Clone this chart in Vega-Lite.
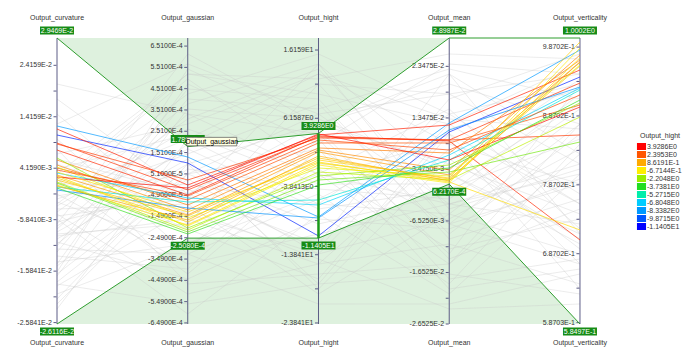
{
"$schema": "https://vega.github.io/schema/vega-lite/v6.json",
"width": 700, "height": 358, "autosize": {"type": "none"}, "padding": 0, "background": "white",
"config": {"view": {"stroke": null}, "font": "Liberation Sans"},
"datasets": {
"axes": [
{"key": "Output_curvature", "idx": 0, "lo": -0.026116, "hi": 0.029469},
{"key": "Output_gaussian", "idx": 1, "lo": -0.000654, "hi": 0.000689},
{"key": "Output_hight", "idx": 2, "lo": -23.99, "hi": 17.92},
{"key": "Output_mean", "idx": 3, "lo": -0.026525, "hi": 0.028987},
{"key": "Output_verticality", "idx": 4, "lo": 0.58497, "hi": 1.0002}
],
"brush": [
{"key": "Output_curvature", "top": 0.029469, "bot": -0.026116, "topLabel": "2.9469E-2", "botLabel": "-2.6116E-2"},
{"key": "Output_gaussian", "top": 0.00017898, "bot": -0.0002508, "topLabel": "1.7898E-4", "botLabel": "-2.5080E-4"},
{"key": "Output_hight", "top": 3.9286, "bot": -11.405, "topLabel": "3.9286E0", "botLabel": "-1.1405E1"},
{"key": "Output_mean", "top": 0.028987, "bot": 0.0006217, "topLabel": "2.8987E-2", "botLabel": "6.2170E-4"},
{"key": "Output_verticality", "top": 1.0002, "bot": 0.58497, "topLabel": "1.0002E0", "botLabel": "5.8497E-1"}
],
"note": [{"key": "Output_gaussian", "value": 0.00017898, "text": "Output_gaussian"}],
"levels": [{"lv": "3.9286E0"}, {"lv": "2.3953E0"}, {"lv": "8.6191E-1"}, {"lv": "-6.7144E-1"}, {"lv": "-2.2048E0"}, {"lv": "-3.7381E0"}, {"lv": "-5.2715E0"}, {"lv": "-6.8048E0"}, {"lv": "-8.3382E0"}, {"lv": "-9.8715E0"}, {"lv": "-1.1405E1"}],
"ticks": [
{"key": "Output_curvature", "value": 0.024159, "label": "2.4159E-2"},
{"key": "Output_curvature", "value": 0.014159, "label": "1.4159E-2"},
{"key": "Output_curvature", "value": 0.004159, "label": "4.1590E-3"},
{"key": "Output_curvature", "value": -0.005841, "label": "-5.8410E-3"},
{"key": "Output_curvature", "value": -0.015841, "label": "-1.5841E-2"},
{"key": "Output_curvature", "value": -0.025841, "label": "-2.5841E-2"},
{"key": "Output_curvature", "value": 0.019159, "label": ""},
{"key": "Output_curvature", "value": 0.009159, "label": ""},
{"key": "Output_curvature", "value": -0.000841, "label": ""},
{"key": "Output_curvature", "value": -0.010841, "label": ""},
{"key": "Output_curvature", "value": -0.020841, "label": ""},
{"key": "Output_gaussian", "value": 0.000651, "label": "6.5100E-4"},
{"key": "Output_gaussian", "value": 0.000551, "label": "5.5100E-4"},
{"key": "Output_gaussian", "value": 0.000451, "label": "4.5100E-4"},
{"key": "Output_gaussian", "value": 0.000351, "label": "3.5100E-4"},
{"key": "Output_gaussian", "value": 0.000251, "label": "2.5100E-4"},
{"key": "Output_gaussian", "value": 0.000151, "label": "1.5100E-4"},
{"key": "Output_gaussian", "value": 0.000051, "label": "5.1000E-5"},
{"key": "Output_gaussian", "value": -0.000049, "label": "-4.9000E-5"},
{"key": "Output_gaussian", "value": -0.000149, "label": "-1.4900E-4"},
{"key": "Output_gaussian", "value": -0.000249, "label": "-2.4900E-4"},
{"key": "Output_gaussian", "value": -0.000349, "label": "-3.4900E-4"},
{"key": "Output_gaussian", "value": -0.000449, "label": "-4.4900E-4"},
{"key": "Output_gaussian", "value": -0.000549, "label": "-5.4900E-4"},
{"key": "Output_gaussian", "value": -0.000649, "label": "-6.4900E-4"},
{"key": "Output_hight", "value": 16.159, "label": "1.6159E1"},
{"key": "Output_hight", "value": 6.1587, "label": "6.1587E0"},
{"key": "Output_hight", "value": -3.8413, "label": "-3.8413E0"},
{"key": "Output_hight", "value": -13.841, "label": "-1.3841E1"},
{"key": "Output_hight", "value": -23.841, "label": "-2.3841E1"},
{"key": "Output_hight", "value": 11.159, "label": ""},
{"key": "Output_hight", "value": 1.1587, "label": ""},
{"key": "Output_hight", "value": -8.8413, "label": ""},
{"key": "Output_hight", "value": -18.841, "label": ""},
{"key": "Output_mean", "value": 0.023475, "label": "2.3475E-2"},
{"key": "Output_mean", "value": 0.013475, "label": "1.3475E-2"},
{"key": "Output_mean", "value": 0.003475, "label": "3.4750E-3"},
{"key": "Output_mean", "value": -0.006525, "label": "-6.5250E-3"},
{"key": "Output_mean", "value": -0.016525, "label": "-1.6525E-2"},
{"key": "Output_mean", "value": -0.026525, "label": "-2.6525E-2"},
{"key": "Output_mean", "value": 0.018475, "label": ""},
{"key": "Output_mean", "value": 0.008475, "label": ""},
{"key": "Output_mean", "value": -0.001525, "label": ""},
{"key": "Output_mean", "value": -0.011525, "label": ""},
{"key": "Output_mean", "value": -0.021525, "label": ""},
{"key": "Output_verticality", "value": 0.98702, "label": "9.8702E-1"},
{"key": "Output_verticality", "value": 0.88702, "label": "8.8702E-1"},
{"key": "Output_verticality", "value": 0.78702, "label": "7.8702E-1"},
{"key": "Output_verticality", "value": 0.68702, "label": "6.8702E-1"},
{"key": "Output_verticality", "value": 0.58703, "label": "5.8703E-1"},
{"key": "Output_verticality", "value": 0.93702, "label": ""},
{"key": "Output_verticality", "value": 0.83702, "label": ""},
{"key": "Output_verticality", "value": 0.73702, "label": ""},
{"key": "Output_verticality", "value": 0.63702, "label": ""}
],
"lines": [
{"id": "c1", "Output_curvature": 0.012365, "Output_gaussian": 0.0001302, "Output_hight": -8.31, "Output_mean": 0.01249, "Output_verticality": 0.98279},
{"id": "c2", "Output_curvature": 0.010616, "Output_gaussian": 0.0001021, "Output_hight": -11.09, "Output_mean": 0.01074, "Output_verticality": 0.94359},
{"id": "c3", "Output_curvature": 0.011782, "Output_gaussian": -0.0000013, "Output_hight": 3.706, "Output_mean": 0.0121, "Output_verticality": 0.95375},
{"id": "c4", "Output_curvature": 0.009061, "Output_gaussian": -0.0000247, "Output_hight": 3.413, "Output_mean": 0.00919, "Output_verticality": 0.93488},
{"id": "c5", "Output_curvature": 0.008867, "Output_gaussian": 0.0000222, "Output_hight": 3.266, "Output_mean": 0.00919, "Output_verticality": 0.85938},
{"id": "c6", "Output_curvature": 0.007701, "Output_gaussian": -0.0000482, "Output_hight": 3.56, "Output_mean": 0.008995, "Output_verticality": 0.70693},
{"id": "c7", "Output_curvature": 0.004203, "Output_gaussian": -0.0000717, "Output_hight": 2.534, "Output_mean": 0.00861, "Output_verticality": 0.90294},
{"id": "c8", "Output_curvature": 0.005757, "Output_gaussian": -0.0000952, "Output_hight": 1.801, "Output_mean": 0.006666, "Output_verticality": 0.96827},
{"id": "c9", "Output_curvature": 0.004786, "Output_gaussian": -0.0001187, "Output_hight": 1.508, "Output_mean": 0.003366, "Output_verticality": 0.97553},
{"id": "c10", "Output_curvature": 0.002842, "Output_gaussian": -0.0001421, "Output_hight": 1.215, "Output_mean": 0.002396, "Output_verticality": 0.96537},
{"id": "c11", "Output_curvature": 0.002259, "Output_gaussian": -0.000175, "Output_hight": 0.043, "Output_mean": 0.001814, "Output_verticality": 0.99441},
{"id": "c12", "Output_curvature": 0.000899, "Output_gaussian": -0.0001891, "Output_hight": -0.397, "Output_mean": 0.001425, "Output_verticality": 0.97117},
{"id": "c13", "Output_curvature": 0.004397, "Output_gaussian": -0.0001562, "Output_hight": -1.13, "Output_mean": 0.002202, "Output_verticality": 0.96101},
{"id": "c14", "Output_curvature": 0.001482, "Output_gaussian": -0.0002126, "Output_hight": -1.716, "Output_mean": 0.001425, "Output_verticality": 0.88551},
{"id": "c15", "Output_curvature": 0.006146, "Output_gaussian": -0.0002032, "Output_hight": -2.302, "Output_mean": 0.004337, "Output_verticality": 0.90584},
{"id": "c16", "Output_curvature": 0.001287, "Output_gaussian": -0.000222, "Output_hight": -2.888, "Output_mean": 0.002978, "Output_verticality": 0.84922},
{"id": "c17", "Output_curvature": 0.003231, "Output_gaussian": -0.0000623, "Output_hight": -6.552, "Output_mean": 0.006278, "Output_verticality": 0.92762},
{"id": "c18", "Output_curvature": 0.00051, "Output_gaussian": -0.0000811, "Output_hight": -5.819, "Output_mean": 0.005307, "Output_verticality": 0.92471},
{"id": "c19", "Output_curvature": -0.000073, "Output_gaussian": -0.0001093, "Output_hight": -8.457, "Output_mean": 0.01113, "Output_verticality": 0.92907},
{"id": "c20", "Output_curvature": 0.002453, "Output_gaussian": -0.0000153, "Output_hight": 3.853, "Output_mean": 0.005307, "Output_verticality": 0.90003},
{"id": "c21", "Output_curvature": 0.003425, "Output_gaussian": -0.000128, "Output_hight": -0.251, "Output_mean": 0.001037, "Output_verticality": 0.72145},
{"id": "c22", "Output_curvature": 0.00187, "Output_gaussian": -0.0001468, "Output_hight": 0.336, "Output_mean": 0.00162, "Output_verticality": 0.95956},
{"id": "c23", "Output_curvature": 0.000704, "Output_gaussian": -0.0001656, "Output_hight": 0.629, "Output_mean": 0.001231, "Output_verticality": 0.96537},
{"id": "c24", "Output_curvature": 0.003814, "Output_gaussian": -0.0000529, "Output_hight": 2.973, "Output_mean": 0.007248, "Output_verticality": 0.91746},
{"id": "c25", "Output_curvature": 0.002648, "Output_gaussian": -0.0001938, "Output_hight": -0.69, "Output_mean": 0.000843, "Output_verticality": 0.98569},
{"id": "c26", "Output_curvature": 0.000316, "Output_gaussian": -0.0002314, "Output_hight": -3.621, "Output_mean": 0.003755, "Output_verticality": 0.9102},
{"id": "g1", "Output_curvature": 0.003037, "Output_gaussian": 0.00052, "Output_hight": 9.714, "Output_mean": 0.012295, "Output_verticality": 0.7592},
{"id": "g2", "Output_curvature": -0.002794, "Output_gaussian": 0.0003791, "Output_hight": 14.11, "Output_mean": 0.00259, "Output_verticality": 0.71564},
{"id": "g3", "Output_curvature": -0.006681, "Output_gaussian": 0.0006139, "Output_hight": 5.318, "Output_mean": 0.020059, "Output_verticality": 0.87535},
{"id": "g4", "Output_curvature": -0.010568, "Output_gaussian": 0.0001913, "Output_hight": 11.18, "Output_mean": -0.007115, "Output_verticality": 0.67208},
{"id": "g5", "Output_curvature": -0.014455, "Output_gaussian": 0.000473, "Output_hight": 2.387, "Output_mean": 0.023941, "Output_verticality": 0.94795},
{"id": "g6", "Output_curvature": 0.012754, "Output_gaussian": 0.000567, "Output_hight": 6.783, "Output_mean": 0.018118, "Output_verticality": 0.81727},
{"id": "g7", "Output_curvature": 0.006924, "Output_gaussian": 0.0002852, "Output_hight": 12.645, "Output_mean": 0.008413, "Output_verticality": 0.78824},
{"id": "g8", "Output_curvature": 0.001093, "Output_gaussian": 0.00000034, "Output_hight": -6.405, "Output_mean": -0.005174, "Output_verticality": 0.88987},
{"id": "g9", "Output_curvature": -0.00085, "Output_gaussian": -0.0003722, "Output_hight": -10.801, "Output_mean": -0.003233, "Output_verticality": 0.73016},
{"id": "g10", "Output_curvature": -0.004737, "Output_gaussian": -0.0005131, "Output_hight": -15.198, "Output_mean": -0.010997, "Output_verticality": 0.64305},
{"id": "g11", "Output_curvature": -0.008624, "Output_gaussian": -0.0001844, "Output_hight": -2.009, "Output_mean": -0.014879, "Output_verticality": 0.83179},
{"id": "g12", "Output_curvature": -0.016398, "Output_gaussian": 0.0000504, "Output_hight": -9.336, "Output_mean": -0.001292, "Output_verticality": 0.91891},
{"id": "g13", "Output_curvature": -0.018342, "Output_gaussian": -0.0005601, "Output_hight": -18.128, "Output_mean": -0.01682, "Output_verticality": 0.62853},
{"id": "g14", "Output_curvature": -0.020285, "Output_gaussian": -0.0002783, "Output_hight": -4.94, "Output_mean": -0.018761, "Output_verticality": 0.84631},
{"id": "g15", "Output_curvature": 0.00498, "Output_gaussian": -0.0001374, "Output_hight": -13.732, "Output_mean": 0.012295, "Output_verticality": 0.96246},
{"id": "g16", "Output_curvature": 0.002065, "Output_gaussian": -0.0004192, "Output_hight": -0.544, "Output_mean": 0.00259, "Output_verticality": 0.70112},
{"id": "g17", "Output_curvature": 0.000121, "Output_gaussian": 0.0004261, "Output_hight": 15.576, "Output_mean": 0.014236, "Output_verticality": 0.77372},
{"id": "g18", "Output_curvature": -0.001822, "Output_gaussian": 0.0001443, "Output_hight": 8.249, "Output_mean": -0.009056, "Output_verticality": 0.86083},
{"id": "g19", "Output_curvature": -0.003766, "Output_gaussian": -0.0000905, "Output_hight": -19.594, "Output_mean": -0.005174, "Output_verticality": 0.6866},
{"id": "g20", "Output_curvature": -0.005709, "Output_gaussian": -0.000607, "Output_hight": -7.871, "Output_mean": -0.020702, "Output_verticality": 0.80276},
{"id": "g21", "Output_curvature": -0.007653, "Output_gaussian": 0.0003322, "Output_hight": 3.853, "Output_mean": -0.012938, "Output_verticality": 0.93343},
{"id": "g22", "Output_curvature": -0.009596, "Output_gaussian": 0.0000974, "Output_hight": 5.318, "Output_mean": 0.004531, "Output_verticality": 0.74468},
{"id": "g23", "Output_curvature": -0.01154, "Output_gaussian": -0.0003253, "Output_hight": -21.059, "Output_mean": -0.022643, "Output_verticality": 0.65757},
{"id": "g24", "Output_curvature": 0.004008, "Output_gaussian": 0.0002382, "Output_hight": -3.474, "Output_mean": 0.000649, "Output_verticality": 0.90439},
{"id": "g25", "Output_curvature": 0.005952, "Output_gaussian": -0.0000435, "Output_hight": -12.267, "Output_mean": 0.022, "Output_verticality": 0.83179},
{"id": "g26", "Output_curvature": 0.007895, "Output_gaussian": -0.0004662, "Output_hight": -16.663, "Output_mean": -0.014879, "Output_verticality": 0.87535},
{"id": "g27", "Output_curvature": 0.009839, "Output_gaussian": -0.0003253, "Output_hight": -5.672, "Output_mean": 0.010354, "Output_verticality": 0.7592},
{"id": "g28", "Output_curvature": 0.001093, "Output_gaussian": 0.00052, "Output_hight": 11.912, "Output_mean": 0.025882, "Output_verticality": 0.96972},
{"id": "g29", "Output_curvature": -0.001239, "Output_gaussian": 0.0000504, "Output_hight": 6.783, "Output_mean": -0.003233, "Output_verticality": 0.81727},
{"id": "g30", "Output_curvature": -0.003183, "Output_gaussian": 0.0002617, "Output_hight": -2.009, "Output_mean": 0.015207, "Output_verticality": 0.7229},
{"id": "g31", "Output_curvature": -0.005126, "Output_gaussian": -0.000067, "Output_hight": 14.11, "Output_mean": -0.007115, "Output_verticality": 0.78824},
{"id": "g32", "Output_curvature": -0.00707, "Output_gaussian": 0.0001678, "Output_hight": -7.138, "Output_mean": -0.000321, "Output_verticality": 0.85357},
{"id": "g33", "Output_curvature": -0.009013, "Output_gaussian": -0.0001609, "Output_hight": -15.198, "Output_mean": 0.007443, "Output_verticality": 0.69386},
{"id": "g34", "Output_curvature": -0.010957, "Output_gaussian": 0.0004496, "Output_hight": 8.982, "Output_mean": -0.010026, "Output_verticality": 0.76646},
{"id": "g35", "Output_curvature": -0.0129, "Output_gaussian": -0.0003957, "Output_hight": 1.655, "Output_mean": -0.019731, "Output_verticality": 0.66482},
{"id": "g36", "Output_curvature": -0.014844, "Output_gaussian": 0.0000739, "Output_hight": -4.207, "Output_mean": -0.002262, "Output_verticality": 0.89713},
{"id": "g37", "Output_curvature": -0.016787, "Output_gaussian": 0.0003556, "Output_hight": 6.051, "Output_mean": 0.003561, "Output_verticality": 0.94069},
{"id": "g38", "Output_curvature": -0.018731, "Output_gaussian": -0.000114, "Output_hight": -14.465, "Output_mean": -0.023613, "Output_verticality": 0.61401},
{"id": "g39", "Output_curvature": 0.002648, "Output_gaussian": -0.0002079, "Output_hight": -17.396, "Output_mean": 0.011325, "Output_verticality": 0.92617},
{"id": "g40", "Output_curvature": 0.000704, "Output_gaussian": 0.0004965, "Output_hight": -1.276, "Output_mean": -0.011967, "Output_verticality": 0.73742},
{"id": "g41", "Output_curvature": -0.000462, "Output_gaussian": 0.0002148, "Output_hight": 12.645, "Output_mean": 0.013266, "Output_verticality": 0.86809},
{"id": "g42", "Output_curvature": -0.002405, "Output_gaussian": -0.0003018, "Output_hight": 3.12, "Output_mean": -0.01779, "Output_verticality": 0.67934},
{"id": "g43", "Output_curvature": -0.004349, "Output_gaussian": 0.0003087, "Output_hight": 13.378, "Output_mean": -0.004203, "Output_verticality": 0.81001},
{"id": "g44", "Output_curvature": -0.006292, "Output_gaussian": -0.00002, "Output_hight": -12.999, "Output_mean": 0.017148, "Output_verticality": 0.97698},
{"id": "g45", "Output_curvature": -0.008236, "Output_gaussian": 0.0001208, "Output_hight": -18.861, "Output_mean": 0.005502, "Output_verticality": 0.70838},
{"id": "g46", "Output_curvature": -0.010179, "Output_gaussian": -0.0004427, "Output_hight": -8.603, "Output_mean": -0.008085, "Output_verticality": 0.7955},
{"id": "g47", "Output_curvature": -0.012123, "Output_gaussian": 0.0004026, "Output_hight": 7.516, "Output_mean": 0.022971, "Output_verticality": 0.91165},
{"id": "g48", "Output_curvature": -0.014066, "Output_gaussian": -0.0002783, "Output_hight": -2.742, "Output_mean": 0.009384, "Output_verticality": 0.63579},
{"id": "g49", "Output_curvature": -0.01601, "Output_gaussian": 0.0005435, "Output_hight": 4.585, "Output_mean": -0.013908, "Output_verticality": 0.75194},
{"id": "g50", "Output_curvature": -0.017953, "Output_gaussian": 0.0000269, "Output_hight": -13.732, "Output_mean": -0.006144, "Output_verticality": 0.83905},
{"id": "g51", "Output_curvature": 0.020528, "Output_gaussian": 0.0003322, "Output_hight": -2.009, "Output_mean": -0.003233, "Output_verticality": 0.80276},
{"id": "g52", "Output_curvature": 0.017613, "Output_gaussian": -0.0000435, "Output_hight": 5.318, "Output_mean": 0.022, "Output_verticality": 0.71564},
{"id": "g53", "Output_curvature": -0.023201, "Output_gaussian": 0.0002148, "Output_hight": -6.405, "Output_mean": 0.014236, "Output_verticality": 0.93343},
{"id": "g54", "Output_curvature": -0.022229, "Output_gaussian": 0.0000504, "Output_hight": 1.655, "Output_mean": -0.007115, "Output_verticality": 0.87535},
{"id": "g55", "Output_curvature": -0.021257, "Output_gaussian": 0.0000974, "Output_hight": -18.128, "Output_mean": 0.010354, "Output_verticality": 0.67208},
{"id": "g56", "Output_curvature": 0.014698, "Output_gaussian": -0.0001844, "Output_hight": 11.18, "Output_mean": 0.018118, "Output_verticality": 0.94795}
]
},
"layer": [
{"data": {"name": "brush"},
 "transform": [{"calculate": "indexof(['Output_curvature','Output_gaussian','Output_hight','Output_mean','Output_verticality'], datum.key)", "as": "idx"}, {"calculate": "[-0.026116,-0.000654,-23.99,-0.026525,0.58497][datum.idx]", "as": "lo"}, {"calculate": "[0.029469,0.000689,17.92,0.028987,1.0002][datum.idx]", "as": "hi"}, {"calculate": "(datum.top - datum.lo) / (datum.hi - datum.lo)", "as": "ny"}, {"calculate": "1", "as": "one"}],
 "mark": {"type": "area", "color": "#5cb85c", "opacity": 0.2},
 "encoding": {"x": {"field": "idx", "type": "quantitative", "scale": {"domain": [-0.436, 4.918], "nice": false, "zero": false}, "axis": null},
  "y": {"field": "ny", "type": "quantitative", "scale": {"domain": [-0.11888, 1.13287], "nice": false, "zero": false}, "axis": null},
  "y2": {"field": "one"}}},
{"data": {"name": "brush"},
 "transform": [{"calculate": "indexof(['Output_curvature','Output_gaussian','Output_hight','Output_mean','Output_verticality'], datum.key)", "as": "idx"}, {"calculate": "[-0.026116,-0.000654,-23.99,-0.026525,0.58497][datum.idx]", "as": "lo"}, {"calculate": "[0.029469,0.000689,17.92,0.028987,1.0002][datum.idx]", "as": "hi"}, {"calculate": "(datum.bot - datum.lo) / (datum.hi - datum.lo)", "as": "ny"}, {"calculate": "0", "as": "zero"}],
 "mark": {"type": "area", "color": "#5cb85c", "opacity": 0.2},
 "encoding": {"x": {"field": "idx", "type": "quantitative", "scale": {"domain": [-0.436, 4.918], "nice": false, "zero": false}, "axis": null},
  "y": {"field": "ny", "type": "quantitative", "scale": {"domain": [-0.11888, 1.13287], "nice": false, "zero": false}, "axis": null}, "y2": {"field": "zero"}}},
{"data": {"name": "lines"},
 "transform": [
  {"filter": "!(datum.Output_gaussian >= -0.0002508 && datum.Output_gaussian <= 0.00017898 && datum.Output_hight >= -11.405 && datum.Output_hight <= 3.9286 && datum.Output_mean >= 0.0006217)"},
  {"fold": ["Output_curvature", "Output_gaussian", "Output_hight", "Output_mean", "Output_verticality"], "as": ["key", "value"]},
  {"calculate": "indexof(['Output_curvature','Output_gaussian','Output_hight','Output_mean','Output_verticality'], datum.key)", "as": "idx"}, {"calculate": "[-0.026116,-0.000654,-23.99,-0.026525,0.58497][datum.idx]", "as": "lo"}, {"calculate": "[0.029469,0.000689,17.92,0.028987,1.0002][datum.idx]", "as": "hi"},
  {"calculate": "(datum.value - datum.lo) / (datum.hi - datum.lo)", "as": "ny"}],
 "mark": {"type": "line", "stroke": "#c8c8c8", "strokeWidth": 1, "opacity": 0.35},
 "encoding": {"x": {"field": "idx", "type": "quantitative", "scale": {"domain": [-0.436, 4.918], "nice": false, "zero": false}, "axis": null},
  "y": {"field": "ny", "type": "quantitative", "scale": {"domain": [-0.11888, 1.13287], "nice": false, "zero": false}, "axis": null}, "detail": {"field": "id", "type": "nominal"}}},
{"data": {"name": "axes"},
 "transform": [{"calculate": "0", "as": "n0"}, {"calculate": "1", "as": "n1"}],
 "mark": {"type": "rule", "color": "#5d5d86", "strokeWidth": 1},
 "encoding": {"x": {"field": "idx", "type": "quantitative", "scale": {"domain": [-0.436, 4.918], "nice": false, "zero": false}, "axis": null},
  "y": {"field": "n0", "type": "quantitative", "scale": {"domain": [-0.11888, 1.13287], "nice": false, "zero": false}, "axis": null}, "y2": {"field": "n1"}}},
{"data": {"name": "ticks"},
 "transform": [{"calculate": "indexof(['Output_curvature','Output_gaussian','Output_hight','Output_mean','Output_verticality'], datum.key)", "as": "idx"}, {"calculate": "[-0.026116,-0.000654,-23.99,-0.026525,0.58497][datum.idx]", "as": "lo"}, {"calculate": "[0.029469,0.000689,17.92,0.028987,1.0002][datum.idx]", "as": "hi"}, {"calculate": "(datum.value - datum.lo) / (datum.hi - datum.lo)", "as": "ny"}],
 "mark": {"type": "point", "shape": "M-1,0H1", "size": 9, "filled": false, "stroke": "#5d5d86", "strokeWidth": 1, "opacity": 1, "xOffset": -2},
 "encoding": {"x": {"field": "idx", "type": "quantitative", "scale": {"domain": [-0.436, 4.918], "nice": false, "zero": false}, "axis": null},
  "y": {"field": "ny", "type": "quantitative", "scale": {"domain": [-0.11888, 1.13287], "nice": false, "zero": false}, "axis": null}}},
{"data": {"name": "ticks"},
 "transform": [{"calculate": "indexof(['Output_curvature','Output_gaussian','Output_hight','Output_mean','Output_verticality'], datum.key)", "as": "idx"}, {"calculate": "[-0.026116,-0.000654,-23.99,-0.026525,0.58497][datum.idx]", "as": "lo"}, {"calculate": "[0.029469,0.000689,17.92,0.028987,1.0002][datum.idx]", "as": "hi"}, {"calculate": "(datum.value - datum.lo) / (datum.hi - datum.lo)", "as": "ny"}],
 "mark": {"type": "text", "align": "right", "baseline": "middle", "dx": -5, "fontSize": 7, "color": "#333333"},
 "encoding": {"x": {"field": "idx", "type": "quantitative", "scale": {"domain": [-0.436, 4.918], "nice": false, "zero": false}, "axis": null},
  "y": {"field": "ny", "type": "quantitative", "scale": {"domain": [-0.11888, 1.13287], "nice": false, "zero": false}, "axis": null}, "text": {"field": "label", "type": "nominal"}}},
{"data": {"name": "lines"},
 "transform": [
  {"filter": "datum.Output_gaussian >= -0.0002508 && datum.Output_gaussian <= 0.00017898 && datum.Output_hight >= -11.405 && datum.Output_hight <= 3.9286 && datum.Output_mean >= 0.0006217"},
  {"fold": ["Output_curvature", "Output_gaussian", "Output_hight", "Output_mean", "Output_verticality"], "as": ["key", "value"]},
  {"calculate": "indexof(['Output_curvature','Output_gaussian','Output_hight','Output_mean','Output_verticality'], datum.key)", "as": "idx"}, {"calculate": "[-0.026116,-0.000654,-23.99,-0.026525,0.58497][datum.idx]", "as": "lo"}, {"calculate": "[0.029469,0.000689,17.92,0.028987,1.0002][datum.idx]", "as": "hi"},
  {"calculate": "(datum.value - datum.lo) / (datum.hi - datum.lo)", "as": "ny"}],
 "mark": {"type": "line", "strokeWidth": 1, "opacity": 0.68},
 "encoding": {"x": {"field": "idx", "type": "quantitative", "scale": {"domain": [-0.436, 4.918], "nice": false, "zero": false}, "axis": null},
  "y": {"field": "ny", "type": "quantitative", "scale": {"domain": [-0.11888, 1.13287], "nice": false, "zero": false}, "axis": null}, "detail": {"field": "id", "type": "nominal"},
  "stroke": {"field": "Output_hight", "type": "quantitative", "legend": null,
   "scale": {"domain": [-11.405, -9.8715, -8.3382, -6.8048, -5.2715, -3.7381, -2.2048, -0.67144, 0.86191, 2.3953, 3.9286],
    "range": ["#0000ff", "#0055ff", "#0099ff", "#00ccff", "#00eeaa", "#22dd22", "#99ee00", "#ffee00", "#ffaa00", "#ff5500", "#ff0000"]}}}},
{"data": {"name": "brush"},
 "transform": [{"calculate": "indexof(['Output_curvature','Output_gaussian','Output_hight','Output_mean','Output_verticality'], datum.key)", "as": "idx"}, {"calculate": "[-0.026116,-0.000654,-23.99,-0.026525,0.58497][datum.idx]", "as": "lo"}, {"calculate": "[0.029469,0.000689,17.92,0.028987,1.0002][datum.idx]", "as": "hi"}, {"calculate": "(datum.top - datum.lo) / (datum.hi - datum.lo)", "as": "ny"}],
 "mark": {"type": "line", "color": "#2f9e2f", "strokeWidth": 1},
 "encoding": {"x": {"field": "idx", "type": "quantitative", "scale": {"domain": [-0.436, 4.918], "nice": false, "zero": false}, "axis": null},
  "y": {"field": "ny", "type": "quantitative", "scale": {"domain": [-0.11888, 1.13287], "nice": false, "zero": false}, "axis": null}}},
{"data": {"name": "brush"},
 "transform": [{"calculate": "indexof(['Output_curvature','Output_gaussian','Output_hight','Output_mean','Output_verticality'], datum.key)", "as": "idx"}, {"calculate": "[-0.026116,-0.000654,-23.99,-0.026525,0.58497][datum.idx]", "as": "lo"}, {"calculate": "[0.029469,0.000689,17.92,0.028987,1.0002][datum.idx]", "as": "hi"}, {"calculate": "(datum.bot - datum.lo) / (datum.hi - datum.lo)", "as": "ny"}],
 "mark": {"type": "line", "color": "#2f9e2f", "strokeWidth": 1},
 "encoding": {"x": {"field": "idx", "type": "quantitative", "scale": {"domain": [-0.436, 4.918], "nice": false, "zero": false}, "axis": null},
  "y": {"field": "ny", "type": "quantitative", "scale": {"domain": [-0.11888, 1.13287], "nice": false, "zero": false}, "axis": null}}},
{"data": {"name": "brush"},
 "transform": [{"filter": "datum.key == 'Output_hight'"}, {"calculate": "indexof(['Output_curvature','Output_gaussian','Output_hight','Output_mean','Output_verticality'], datum.key)", "as": "idx"}, {"calculate": "[-0.026116,-0.000654,-23.99,-0.026525,0.58497][datum.idx]", "as": "lo"}, {"calculate": "[0.029469,0.000689,17.92,0.028987,1.0002][datum.idx]", "as": "hi"}, {"calculate": "(datum.top - datum.lo) / (datum.hi - datum.lo)", "as": "ny"}, {"calculate": "(datum.bot - datum.lo) / (datum.hi - datum.lo)", "as": "ny2"}],
 "mark": {"type": "rule", "color": "#1a9a1a", "strokeWidth": 2.5},
 "encoding": {"x": {"field": "idx", "type": "quantitative", "scale": {"domain": [-0.436, 4.918], "nice": false, "zero": false}, "axis": null},
  "y": {"field": "ny", "type": "quantitative", "scale": {"domain": [-0.11888, 1.13287], "nice": false, "zero": false}, "axis": null}, "y2": {"field": "ny2"}}},
{"data": {"name": "brush"},
 "transform": [{"calculate": "indexof(['Output_curvature','Output_gaussian','Output_hight','Output_mean','Output_verticality'], datum.key)", "as": "idx"}, {"calculate": "[-0.026116,-0.000654,-23.99,-0.026525,0.58497][datum.idx]", "as": "lo"}, {"calculate": "[0.029469,0.000689,17.92,0.028987,1.0002][datum.idx]", "as": "hi"}, {"calculate": "(datum.top - datum.lo) / (datum.hi - datum.lo)", "as": "ny"}],
 "mark": {"type": "point", "shape": "M-1,-0.235H1V0.235H-1Z", "size": 1156, "filled": true, "color": "#168c16", "opacity": 1, "yOffset": -7.5},
 "encoding": {"x": {"field": "idx", "type": "quantitative", "scale": {"domain": [-0.436, 4.918], "nice": false, "zero": false}, "axis": null},
  "y": {"field": "ny", "type": "quantitative", "scale": {"domain": [-0.11888, 1.13287], "nice": false, "zero": false}, "axis": null}}},
{"data": {"name": "brush"},
 "transform": [{"calculate": "indexof(['Output_curvature','Output_gaussian','Output_hight','Output_mean','Output_verticality'], datum.key)", "as": "idx"}, {"calculate": "[-0.026116,-0.000654,-23.99,-0.026525,0.58497][datum.idx]", "as": "lo"}, {"calculate": "[0.029469,0.000689,17.92,0.028987,1.0002][datum.idx]", "as": "hi"}, {"calculate": "(datum.top - datum.lo) / (datum.hi - datum.lo)", "as": "ny"}],
 "mark": {"type": "text", "align": "center", "baseline": "middle", "dy": -7, "fontSize": 7, "color": "#ffffff"},
 "encoding": {"x": {"field": "idx", "type": "quantitative", "scale": {"domain": [-0.436, 4.918], "nice": false, "zero": false}, "axis": null},
  "y": {"field": "ny", "type": "quantitative", "scale": {"domain": [-0.11888, 1.13287], "nice": false, "zero": false}, "axis": null}, "text": {"field": "topLabel", "type": "nominal"}}},
{"data": {"name": "brush"},
 "transform": [{"calculate": "indexof(['Output_curvature','Output_gaussian','Output_hight','Output_mean','Output_verticality'], datum.key)", "as": "idx"}, {"calculate": "[-0.026116,-0.000654,-23.99,-0.026525,0.58497][datum.idx]", "as": "lo"}, {"calculate": "[0.029469,0.000689,17.92,0.028987,1.0002][datum.idx]", "as": "hi"}, {"calculate": "(datum.bot - datum.lo) / (datum.hi - datum.lo)", "as": "ny"}],
 "mark": {"type": "point", "shape": "M-1,-0.235H1V0.235H-1Z", "size": 1156, "filled": true, "color": "#168c16", "opacity": 1, "yOffset": 7.5},
 "encoding": {"x": {"field": "idx", "type": "quantitative", "scale": {"domain": [-0.436, 4.918], "nice": false, "zero": false}, "axis": null},
  "y": {"field": "ny", "type": "quantitative", "scale": {"domain": [-0.11888, 1.13287], "nice": false, "zero": false}, "axis": null}}},
{"data": {"name": "brush"},
 "transform": [{"calculate": "indexof(['Output_curvature','Output_gaussian','Output_hight','Output_mean','Output_verticality'], datum.key)", "as": "idx"}, {"calculate": "[-0.026116,-0.000654,-23.99,-0.026525,0.58497][datum.idx]", "as": "lo"}, {"calculate": "[0.029469,0.000689,17.92,0.028987,1.0002][datum.idx]", "as": "hi"}, {"calculate": "(datum.bot - datum.lo) / (datum.hi - datum.lo)", "as": "ny"}],
 "mark": {"type": "text", "align": "center", "baseline": "middle", "dy": 8, "fontSize": 7, "color": "#ffffff"},
 "encoding": {"x": {"field": "idx", "type": "quantitative", "scale": {"domain": [-0.436, 4.918], "nice": false, "zero": false}, "axis": null},
  "y": {"field": "ny", "type": "quantitative", "scale": {"domain": [-0.11888, 1.13287], "nice": false, "zero": false}, "axis": null}, "text": {"field": "botLabel", "type": "nominal"}}},
{"data": {"name": "note"},
 "transform": [{"calculate": "indexof(['Output_curvature','Output_gaussian','Output_hight','Output_mean','Output_verticality'], datum.key)", "as": "idx"}, {"calculate": "[-0.026116,-0.000654,-23.99,-0.026525,0.58497][datum.idx]", "as": "lo"}, {"calculate": "[0.029469,0.000689,17.92,0.028987,1.0002][datum.idx]", "as": "hi"}, {"calculate": "(datum.value - datum.lo) / (datum.hi - datum.lo)", "as": "ny"}],
 "mark": {"type": "point", "shape": "M-1,-0.17H1V0.17H-1Z", "size": 2500, "filled": true, "fill": "#ffffe1", "stroke": "#555555", "strokeWidth": 0.7, "opacity": 1, "xOffset": 24, "yOffset": -5},
 "encoding": {"x": {"field": "idx", "type": "quantitative", "scale": {"domain": [-0.436, 4.918], "nice": false, "zero": false}, "axis": null},
  "y": {"field": "ny", "type": "quantitative", "scale": {"domain": [-0.11888, 1.13287], "nice": false, "zero": false}, "axis": null}}},
{"data": {"name": "note"},
 "transform": [{"calculate": "indexof(['Output_curvature','Output_gaussian','Output_hight','Output_mean','Output_verticality'], datum.key)", "as": "idx"}, {"calculate": "[-0.026116,-0.000654,-23.99,-0.026525,0.58497][datum.idx]", "as": "lo"}, {"calculate": "[0.029469,0.000689,17.92,0.028987,1.0002][datum.idx]", "as": "hi"}, {"calculate": "(datum.value - datum.lo) / (datum.hi - datum.lo)", "as": "ny"}],
 "mark": {"type": "text", "align": "center", "baseline": "middle", "dx": 24, "dy": -4.5, "fontSize": 7, "color": "#000000"},
 "encoding": {"x": {"field": "idx", "type": "quantitative", "scale": {"domain": [-0.436, 4.918], "nice": false, "zero": false}, "axis": null},
  "y": {"field": "ny", "type": "quantitative", "scale": {"domain": [-0.11888, 1.13287], "nice": false, "zero": false}, "axis": null}, "text": {"field": "text", "type": "nominal"}}},
{"data": {"name": "axes"},
 "transform": [{"calculate": "1", "as": "n1"}],
 "mark": {"type": "text", "align": "center", "baseline": "middle", "dy": -20, "fontSize": 7, "color": "#333333"},
 "encoding": {"x": {"field": "idx", "type": "quantitative", "scale": {"domain": [-0.436, 4.918], "nice": false, "zero": false}, "axis": null},
  "y": {"field": "n1", "type": "quantitative", "scale": {"domain": [-0.11888, 1.13287], "nice": false, "zero": false}, "axis": null}, "text": {"field": "key", "type": "nominal"}}},
{"data": {"name": "axes"},
 "transform": [{"calculate": "0", "as": "n0"}],
 "mark": {"type": "text", "align": "center", "baseline": "middle", "dy": 19, "fontSize": 7, "color": "#333333"},
 "encoding": {"x": {"field": "idx", "type": "quantitative", "scale": {"domain": [-0.436, 4.918], "nice": false, "zero": false}, "axis": null},
  "y": {"field": "n0", "type": "quantitative", "scale": {"domain": [-0.11888, 1.13287], "nice": false, "zero": false}, "axis": null}, "text": {"field": "key", "type": "nominal"}}},
{"data": {"name": "levels"},
 "transform": [{"calculate": "0", "as": "idx"}, {"calculate": "0", "as": "ny"}],
 "mark": {"type": "point", "filled": true, "opacity": 0},
 "encoding": {"x": {"field": "idx", "type": "quantitative", "scale": {"domain": [-0.436, 4.918], "nice": false, "zero": false}, "axis": null},
  "y": {"field": "ny", "type": "quantitative", "scale": {"domain": [-0.11888, 1.13287], "nice": false, "zero": false}, "axis": null},
  "fill": {"field": "lv", "type": "nominal",
  "scale": {"domain": ["3.9286E0", "2.3953E0", "8.6191E-1", "-6.7144E-1", "-2.2048E0", "-3.7381E0", "-5.2715E0", "-6.8048E0", "-8.3382E0", "-9.8715E0", "-1.1405E1"],
   "range": ["#ff0000", "#ff5500", "#ffaa00", "#ffee00", "#99ee00", "#22dd22", "#00eeaa", "#00ccff", "#0099ff", "#0055ff", "#0000ff"]},
  "legend": {"title": "Output_hight", "orient": "none", "legendX": 638, "legendY": 132, "direction": "vertical",
   "symbolType": "M-1.3,-1H1.3V1H-1.3Z", "symbolSize": 49, "symbolStrokeWidth": 0, "symbolOpacity": 1, "rowPadding": 0,
   "labelFontSize": 7, "labelOffset": 2, "labelColor": "#333333", "titleFontSize": 7, "titleFontWeight": "normal", "titleColor": "#333333", "titleAnchor": "middle", "titlePadding": 4}}}}
]
}
